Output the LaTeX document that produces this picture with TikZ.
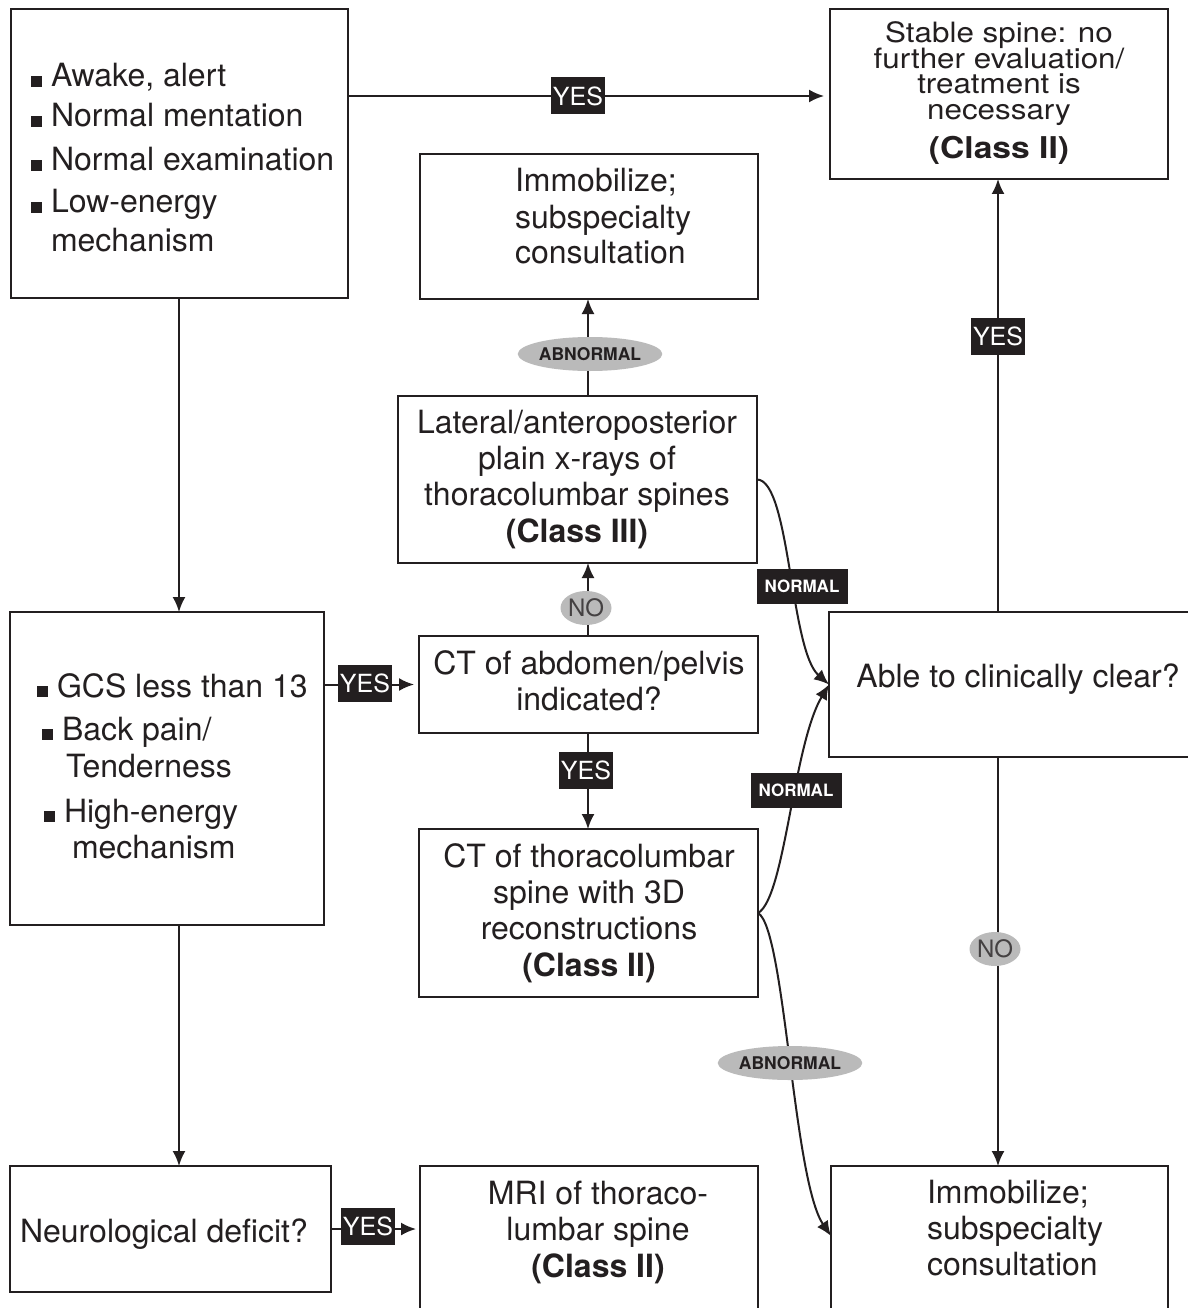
\documentclass[tikz,border=0pt]{standalone}
\usepackage{fontspec}
\setmainfont{TeX Gyre Heros}
\newfontfamily\stretchfont[FakeStretch=1.12]{TeX Gyre Heros}
\usetikzlibrary{arrows.meta,shapes.geometric,calc}
\definecolor{ink}{RGB}{35,31,32}
\definecolor{pill}{RGB}{186,186,186}
\newcommand\bulsq{\rule{11pt}{11pt}\hspace{9pt}}
\newcommand\sm[1]{\smash{#1}}
\tikzset{
 box/.style={draw=ink, line width=2.4pt, inner sep=0pt, outer sep=0pt, anchor=north west},
 txt/.style={inner sep=0pt, outer sep=0pt, text=ink, font=\fontsize{32}{36}\selectfont},
 conn/.style={draw=ink, line width=2pt, -{Latex[length=15pt,width=13pt]}},
 yeslab/.style={fill=ink, text=white, inner sep=0pt, minimum width=54pt, minimum height=37pt, font=\fontsize{25}{25}\selectfont},
 normlab/.style={fill=ink, text=white, inner sep=0pt, minimum width=91pt, minimum height=35pt, font=\fontsize{17}{17}\selectfont\bfseries},
 ablab/.style={ellipse, fill=pill, text=ink, inner sep=0pt, minimum width=122pt, minimum height=34pt, font=\fontsize{17.5}{17.5}\selectfont\bfseries},
 nolab/.style={ellipse, fill=pill, text=ink!85, inner sep=0pt, minimum width=51pt, minimum height=34pt, font=\fontsize{24}{24}\selectfont},
}
\begin{document}
\begin{tikzpicture}[x=1pt,y=-1pt]
\useasboundingbox (0,0) rectangle (1187,1308);
\fill[white] (0,0) rectangle (1187,1308);
% boxes
\node[box, minimum width=337pt, minimum height=289pt] (A) at (11,9) {};
\node[box, minimum width=338pt, minimum height=170pt] (Stable) at (830,9) {};
\node[box, minimum width=338pt, minimum height=145pt] (ImmobT) at (420,154) {};
\node[box, minimum width=359pt, minimum height=167pt] (Lat) at (398,396) {};
\node[box, minimum width=314pt, minimum height=313pt] (GCS) at (10,612) {};
\node[box, minimum width=339pt, minimum height=97pt] (CTA) at (419,636) {};
\node[box, minimum width=339pt, minimum height=168pt] (CTT) at (419,829) {};
\node[box, minimum width=366pt, minimum height=145pt] (Able) at (829,612) {};
\node[box, minimum width=321pt, minimum height=126pt] (Neuro) at (10,1166) {};
\node[box, minimum width=338pt, minimum height=160pt] (MRI) at (420,1166) {};
\node[box, minimum width=337pt, minimum height=160pt] (ImmobB) at (831,1166) {};
% texts
\node[txt, anchor=base west] (At) at (31,87) {\begin{tabular}[t]{@{}l@{}}
\bulsq Awake, alert\\[4pt]
\bulsq Normal mentation\\[8pt]
\bulsq Normal examination\\[6pt]
\bulsq Low-energy\\[3pt]
\hspace*{20pt}mechanism\end{tabular}};
\node[txt, anchor=base, font=\stretchfont\fontsize{28}{25.5}\selectfont] (Stablet) at (999,43) {\begin{tabular}[t]{@{}c@{}}
\sm{Stable spine: no}\\
\sm{further evaluation/}\\
\sm{treatment is}\\
\sm{necessary}\\[14pt]
\sm{\fontsize{30}{30}\selectfont\bfseries (Class II)}\end{tabular}};
\node[txt, anchor=base west] (ImmobTt) at (515,192) {\begin{tabular}[t]{@{}l@{}}
Immobilize;\\ subspecialty\\ consultation\end{tabular}};
\node[txt, anchor=base] (Latt) at (577,433) {\begin{tabular}[t]{@{}c@{}}
Lateral/anteroposterior\\ plain x-rays of\\ thoracolumbar spines\\[1pt] \textbf{(Class III)}\end{tabular}};
\node[txt, anchor=base west] (GCSt) at (37,697) {\begin{tabular}[t]{@{}l@{}}
\bulsq GCS less than 13\\[7pt]
\hspace*{5pt}\bulsq Back pain/\\[1pt]
\hspace*{29pt}Tenderness\\[9pt]
\hspace*{7pt}\bulsq High-energy\\
\hspace*{35pt}mechanism\end{tabular}};
\node[txt, anchor=base] (CTAt) at (589,674) {\begin{tabular}[t]{@{}c@{}}
CT of abdomen/pelvis\\ indicated?\end{tabular}};
\node[txt, anchor=base] (CTTt) at (589,867) {\begin{tabular}[t]{@{}c@{}}
CT of thoracolumbar\\ spine with 3D\\ reconstructions\\[1pt] \textbf{(Class II)}\end{tabular}};
\node[txt, anchor=base] (Ablet) at (1018,687) {Able to clinically clear?};
\node[txt, anchor=base west] (Neurot) at (20,1242) {Neurological deficit?};
\node[txt, anchor=base] (MRIt) at (598,1204) {\begin{tabular}[t]{@{}c@{}}
MRI of thoraco-\\ lumbar spine\\[1pt] \textbf{(Class II)}\end{tabular}};
\node[txt, anchor=base west] (ImmobBt) at (927,1203) {\begin{tabular}[t]{@{}l@{}}
Immobilize;\\ subspecialty\\ consultation\end{tabular}};
% helper coordinates
\coordinate (xl) at (179,0);
\coordinate (xm) at (588,0);
\coordinate (xr) at (998,0);
\coordinate (ya) at (0,96);
% connectors
\draw[conn, shorten >=6pt] (A.east |- ya) -- (Stable.west |- ya);
\draw[conn] (A.south -| xl) -- (GCS.north -| xl);
\draw[conn] (GCS.south -| xl) -- (Neuro.north -| xl);
\draw[conn, shorten >=5pt] (GCS.east |- CTA.west) -- (CTA.west);
\draw[conn, shorten >=4pt] (Neuro.east) -- (Neuro.east -| MRI.west);
\draw[conn] (CTA.north -| xm) -- (Lat.south -| xm);
\draw[conn] (Lat.north -| xm) -- (ImmobT.south -| xm);
\draw[conn] (CTA.south -| xm) -- (CTT.north -| xm);
\draw[conn] (Able.north -| xr) -- (Stable.south -| xr);
\draw[conn] (Able.south -| xr) -- (ImmobB.north -| xr);
\draw[conn] (Lat.east) .. controls (790,480) and (790,650) .. (Able.west);
\draw[conn] (CTT.east) .. controls (785,898) and (793,745) .. (Able.west);
\draw[conn] (CTT.east) .. controls (785,928) and (793,1180) .. ($(ImmobB.north west)+(0,70)$);
% labels
\node[yeslab] (y1) at (578,96) {YES};
\node[yeslab] (y2) at (365,683) {YES};
\node[yeslab] (y3) at (586,770) {YES};
\node[yeslab] (y4) at (368,1226) {YES};
\node[yeslab] (y5) at (998,336) {YES};
\node[normlab] (n1) at (802,586) {NORMAL};
\node[normlab] (n2) at (796,790) {NORMAL};
\node[ablab] (ab1) at (590,354) {ABNORMAL};
\node[ablab] (ab2) at (790,1063) {ABNORMAL};
\node[nolab] (no1) at (586,608) {NO};
\node[nolab] (no2) at (995,949) {NO};
\end{tikzpicture}
\end{document}
